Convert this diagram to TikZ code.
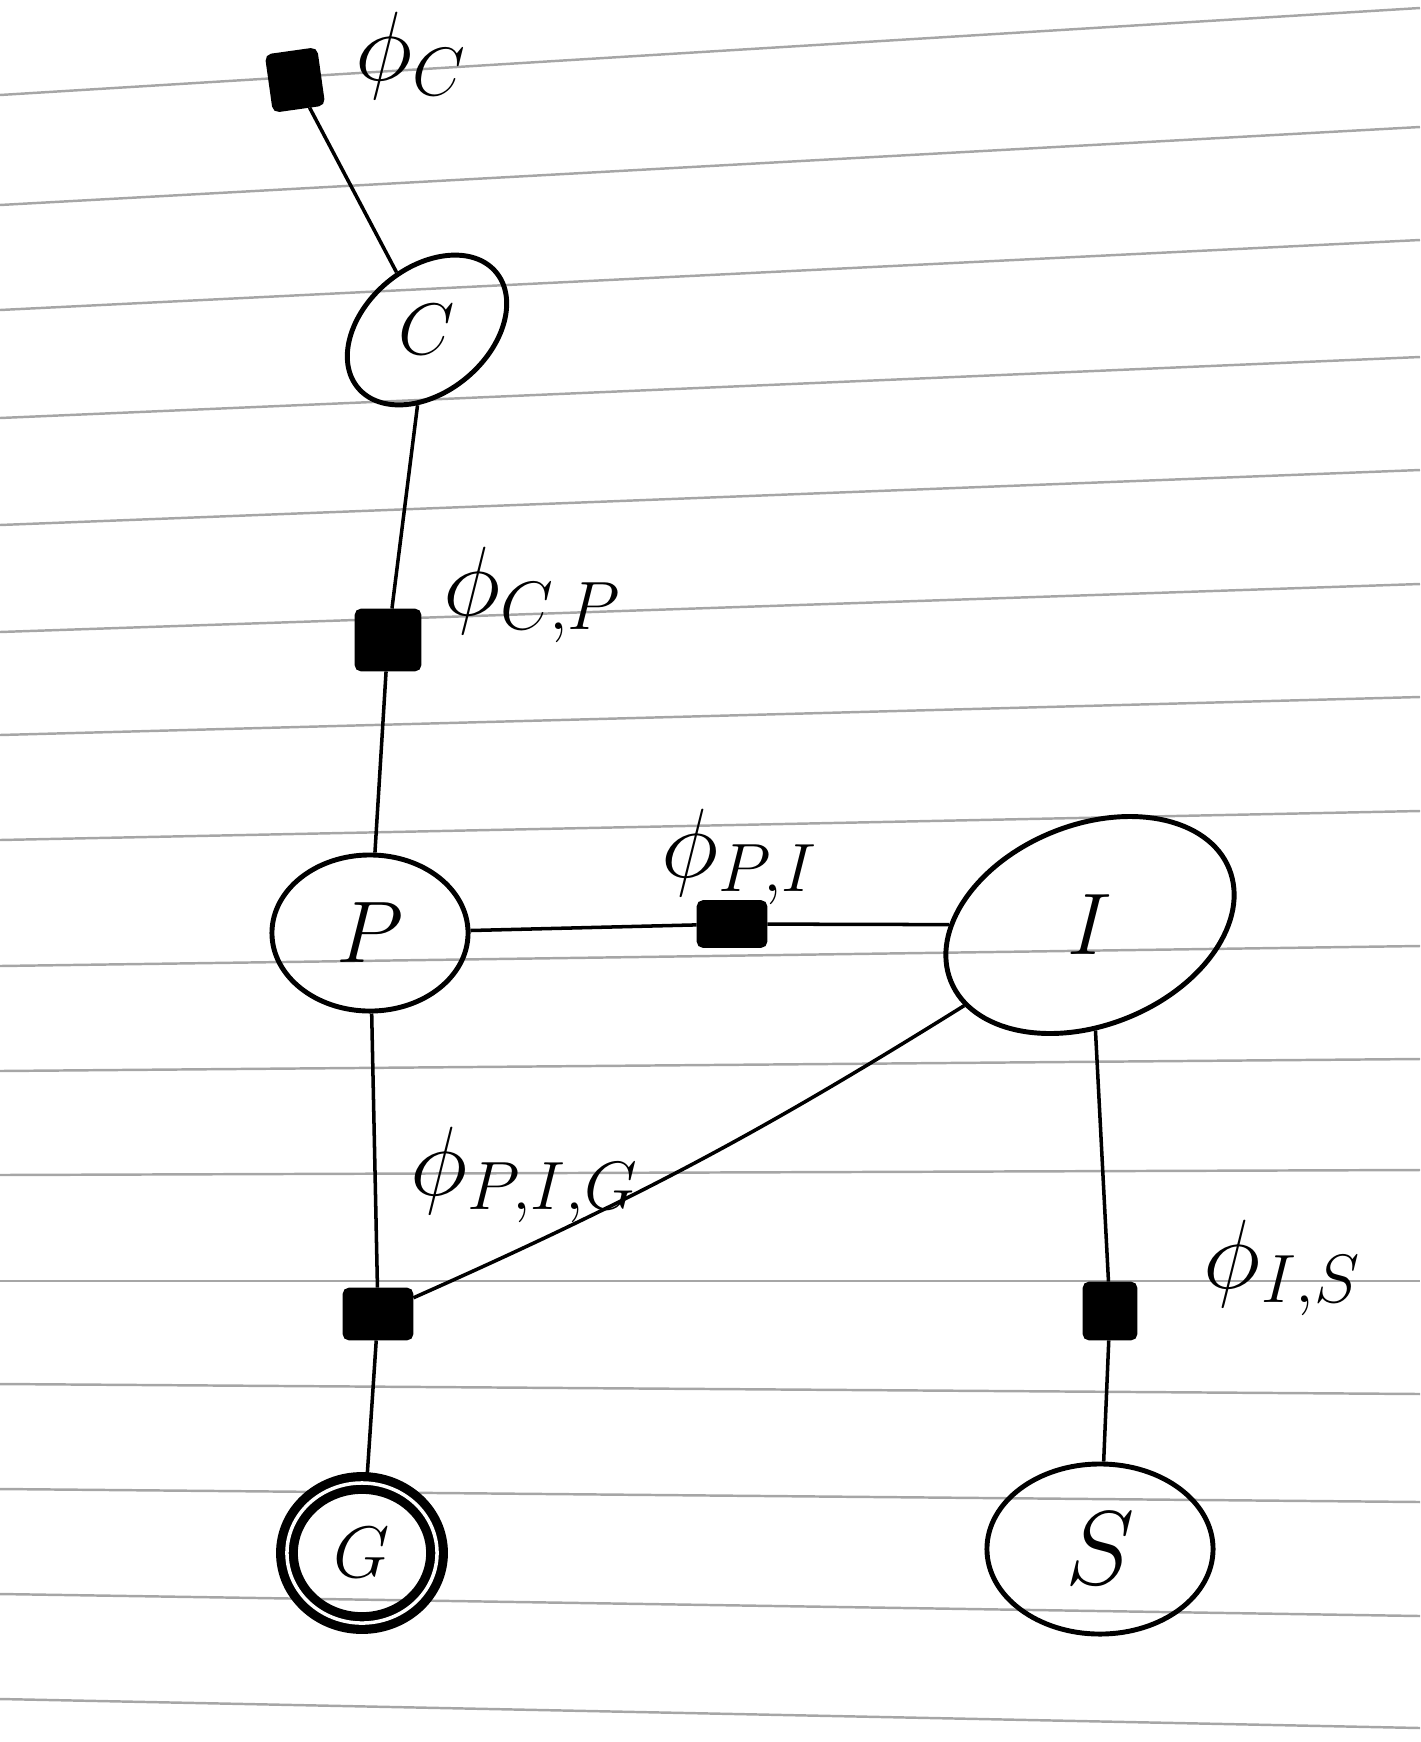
\documentclass[tikz,border=0pt]{standalone}
\usepackage{graphicx}
\usetikzlibrary{shapes.geometric}

\begin{document}
\begin{tikzpicture}[x=0.01cm, y=-0.01cm,
		var/.style={ellipse, draw, line width=1.4pt, inner sep=0pt, font=\fontsize{24}{28}\selectfont},
		fac/.style={rectangle, rounded corners=1.5pt, draw, fill=black, line width=0.8pt, inner sep=0pt},
		lab/.style={scale=1.35, font=\fontsize{22}{26}\selectfont},
		kante/.style={line width=1pt},
		ruled/.style={black!35, line width=0.7pt}]
		\useasboundingbox (0,0) rectangle (1420,1742);
		
		%Linien
		\foreach \l/\r in {95/8, 205/127, 310/240, 418/357, 525/470, 632/584, 735/697, 840/811,
			966/946, 1071/1059, 1175/1170, 1281/1281, 1384/1394, 1489/1502, 1594/1616, 1699/1728} {
			\draw[ruled] (0,\l) -- (1420,\r);
		}
		
		%Knoten
		\node[var, minimum width=1.8cm, minimum height=1.24cm, rotate=40, font=\fontsize{20}{24}\selectfont] (C) at (427,330) {\rotatebox{-40}{$C$}};
		\node[var, minimum width=1.96cm, minimum height=1.56cm] (P) at (370,933) {$P$};
		\node[var, minimum width=3cm, minimum height=2cm, rotate=22] (I) at (1090,925) {\rotatebox{-22}{$I$}};
		\node[var, minimum width=2.26cm, minimum height=1.7cm] (S) at (1100,1549) {\scalebox{1.2}{$S$}};
		\node[var, double, line width=2.6pt, double distance=1pt, minimum width=1.5cm, minimum height=1.4cm, font=\fontsize{20}{24}\selectfont] (G) at (362,1553) {$G$};
		
		%Faktoren
		\node[fac, minimum width=0.5cm, minimum height=0.56cm, rotate=8] (fC) at (295,80) {};
		\node[fac, minimum width=0.64cm, minimum height=0.6cm] (fCP) at (388,640) {};
		\node[fac, minimum width=0.68cm, minimum height=0.45cm] (fPI) at (732,924) {};
		\node[fac, minimum width=0.68cm, minimum height=0.5cm] (fPIG) at (378,1314) {};
		\node[fac, minimum width=0.52cm, minimum height=0.56cm] (fIS) at (1110,1311) {};
		
		\node[lab] (lC) at (412,56) {$\phi_C$};
		\node[lab] (lCP) at (533,595) {$\phi_{C,P}$};
		\node[lab] (lPI) at (740,857) {$\phi_{P,I}$};
		\node[lab] (lPIG) at (525,1175) {$\phi_{P,I,G}$};
		\node[lab] (lIS) at (1283,1268) {$\phi_{I,S}$};
		
		%Kanten
		\draw[kante] (fC) -- (C);
		\draw[kante] (C) -- (fCP);
		\draw[kante] (fCP) -- (P);
		\draw[kante] (P) -- (fPI);
		\draw[kante] (fPI) -- (I);
		\draw[kante] (P) -- (fPIG);
		\draw[kante] (I) to[bend left=4] (fPIG);
		\draw[kante] (fPIG) -- (G);
		\draw[kante] (I) -- (fIS);
		\draw[kante] (fIS) -- (S);
	\end{tikzpicture}
\end{document}
